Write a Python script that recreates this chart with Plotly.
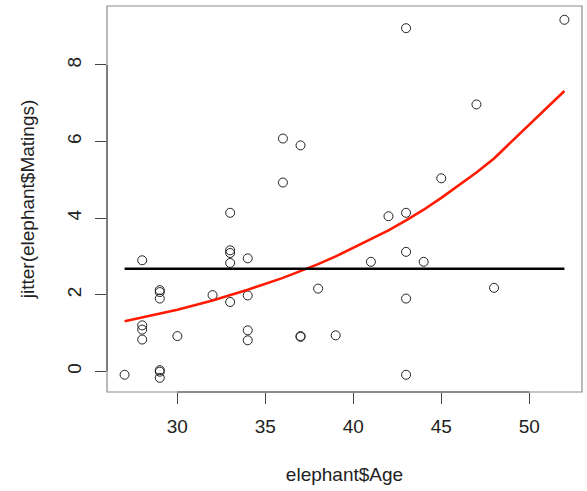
import plotly.graph_objects as go

# Data (jittered matings)
ages = [27,
        28, 28, 28, 28,
        29, 29, 29, 29, 29, 29,
        30, 32,
        33, 33, 33, 33, 33,
        34, 34, 34, 34,
        36, 36,
        37, 37, 37,
        38, 39, 41, 42,
        43, 43, 43, 43, 43,
        44, 45, 47, 48, 52]
jitter_matings = [-0.09,
                  2.90, 1.20, 1.09, 0.83,
                  2.12, 2.07, 1.90, 0.03, -0.01, -0.17,
                  0.92, 1.99,
                  4.14, 3.16, 3.09, 2.83, 1.81,
                  2.95, 1.98, 1.07, 0.81,
                  6.08, 4.93,
                  5.90, 0.92, 0.90,
                  2.16, 0.94, 2.86, 4.05,
                  8.96, 4.14, 3.12, 1.90, -0.09,
                  2.86, 5.04, 6.97, 2.18, 9.18]

# Fitted (Poisson regression) curve at unique ages
fit_ages = [27, 28, 29, 30, 32, 33, 34, 36, 37, 38, 39, 41, 42, 43, 44, 45, 47, 48, 52]
fit_values = [1.31, 1.41, 1.51, 1.61, 1.85, 1.98, 2.13, 2.44, 2.61, 2.80, 3.00,
              3.44, 3.68, 3.94, 4.22, 4.53, 5.19, 5.56, 7.32]

# Mean matings horizontal line
mean_ages = [27, 52]
mean_values = [2.68, 2.68]

x_ticks = [30, 35, 40, 45, 50]
y_ticks = [0, 2, 4, 6, 8]

FONT = "Liberation Sans, Arial, sans-serif"

fig = go.Figure()
fig.add_trace(go.Scatter(
    x=ages, y=jitter_matings, mode="markers",
    marker=dict(symbol="circle-open", size=9, color="#222222",
                line=dict(width=1, color="#222222")),
    showlegend=False))
fig.add_trace(go.Scatter(
    x=fit_ages, y=fit_values, mode="lines",
    line=dict(color="#ff1a00", width=2.6), showlegend=False))
fig.add_trace(go.Scatter(
    x=mean_ages, y=mean_values, mode="lines",
    line=dict(color="#000000", width=2.6), showlegend=False))

axis_common = dict(
    showgrid=False, zeroline=False, showline=False,
    ticks="outside", ticklen=11, tickwidth=1, tickcolor="#444444",
    tickfont=dict(family=FONT, size=19, color="#222222"),
)

fig.update_xaxes(range=[26, 53], tickvals=x_ticks,
                 ticktext=[str(v) for v in x_ticks],
                 title=dict(text="elephant$Age", standoff=31,
                            font=dict(family=FONT, size=19, color="#222222")),
                 ticklabelstandoff=6,
                 **axis_common)
fig.update_yaxes(range=[-0.54, 9.54], tickvals=y_ticks,
                 ticktext=[str(v) for v in y_ticks], tickangle=-90,
                 title=dict(text="jitter(elephant$Matings)", standoff=24,
                            font=dict(family=FONT, size=19, color="#222222")),
                 ticklabelstandoff=6,
                 **axis_common)

# Plot box (light grey) and axis segments spanning the ticks (darker)
fig.add_shape(type="rect", xref="paper", yref="paper", x0=0, x1=1, y0=0, y1=1,
              line=dict(color="#8a8a8a", width=1.2), fillcolor="rgba(0,0,0,0)", layer="above")
fig.add_shape(type="line", xref="x", yref="paper", x0=min(x_ticks), x1=max(x_ticks),
              y0=0, y1=0, line=dict(color="#555555", width=1.2), layer="above")
fig.add_shape(type="line", xref="paper", yref="y", x0=0, x1=0,
              y0=min(y_ticks), y1=max(y_ticks), line=dict(color="#555555", width=1.2), layer="above")

fig.update_layout(
    width=587, height=491,
    margin=dict(l=107, r=5, t=6, b=99),
    paper_bgcolor="white", plot_bgcolor="white",
    font=dict(family=FONT, size=19, color="#222222"),
)

fig.write_html("out.html")
